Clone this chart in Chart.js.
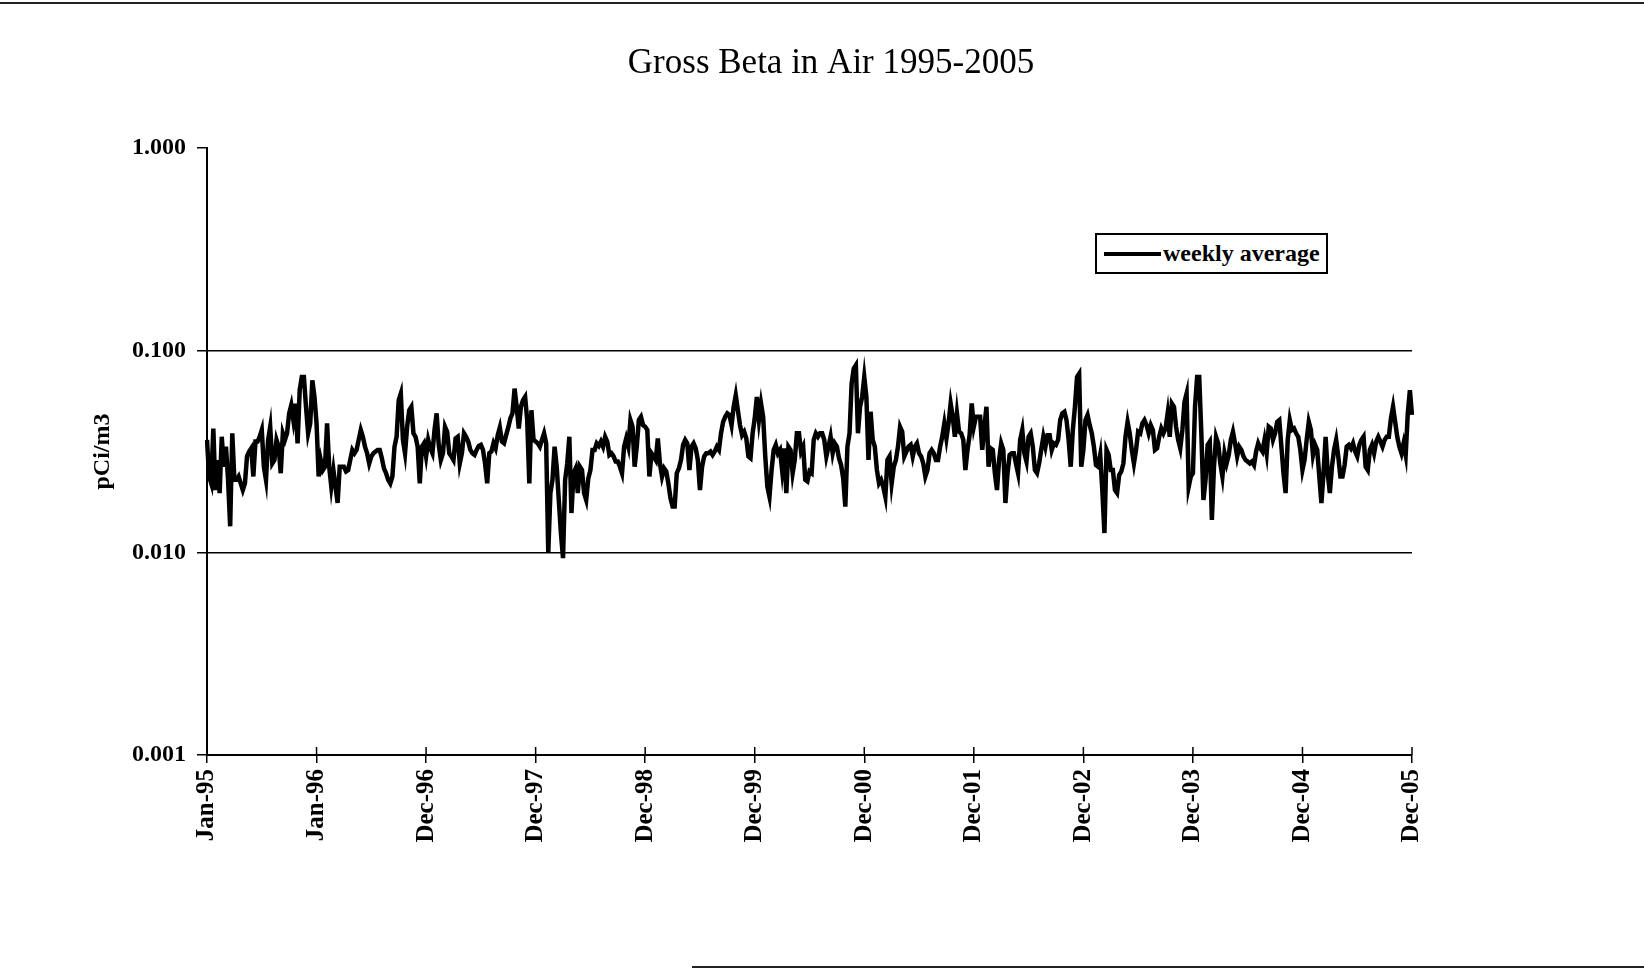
<!DOCTYPE html>
<html><head><meta charset="utf-8">
<script src="https://cdn.jsdelivr.net/npm/chart.js@4.4.1/dist/chart.umd.min.js"></script>
<style>
html,body{margin:0;padding:0;background:#fff;}
#wrap{position:relative;width:1644px;height:970px;overflow:hidden;background:#fff;}
#c{position:absolute;left:0;top:0;}
.rule{position:absolute;background:#222;height:2px;}
#legend{position:absolute;left:1095px;top:233px;width:229px;height:37px;border:2px solid #000;background:#fff;
  font:bold 24px "Liberation Serif","Times New Roman",serif;color:#000;display:flex;align-items:center;white-space:nowrap;}
#legend .sw{display:inline-block;width:57px;height:4px;background:#000;margin-left:7px;margin-right:2px;}
</style></head>
<body><div id="wrap"><canvas id="c" width="1644" height="970"></canvas>
<div class="rule" style="left:0;top:2px;width:1644px"></div>
<div class="rule" style="left:692px;top:966px;width:952px"></div>
<div id="legend"><span class="sw"></span><span id="legtext"></span></div>
</div>
<script>
const titleText = "Gross Beta in Air 1995-2005";
const seriesName = "weekly average";
const yAxisTitle = "pCi/m3";
const tickLabels = ["Jan-95","Jan-96","Dec-96","Dec-97","Dec-98","Dec-99","Dec-00","Dec-01","Dec-02","Dec-03","Dec-04","Dec-05"];
const yTickValues = [0.001, 0.01, 0.1, 1];
const weeksPerTick = 52;

// weekly gross beta values (pCi/m3)
const w1995 = [0.0361,0.0238,0.0220,0.0411,0.0204,0.0287,0.0197,0.0374,0.0266,0.0334,
  0.0229,0.0135,0.0389,0.0229,0.0229,0.0238,0.0220,0.0204,0.0220,0.0299,
  0.0316,0.0328,0.0238,0.0354,0.0354,0.0374,0.0404,0.0266,0.0229,0.0361,
  0.0419,0.0276,0.0287,0.0361,0.0334,0.0247,0.0389,0.0361,0.0389,0.0488,
  0.0536,0.0452,0.0546,0.0347,0.0635,0.0739,0.0739,0.0526,0.0389,0.0435,
  0.0711,0.0589];
const w1996 = [0.0435,0.0238,0.0287,0.0256,0.0266,0.0435,0.0266,0.0212,0.0256,0.0212,
  0.0176,0.0266,0.0266,0.0266,0.0252,0.0256,0.0287,0.0322,0.0310,0.0322,
  0.0361,0.0404,0.0374,0.0334,0.0310,0.0276,0.0299,0.0310,0.0316,0.0322,
  0.0322,0.0293,0.0261,0.0247,0.0229,0.0220,0.0238,0.0334,0.0374,0.0567,
  0.0612,0.0361,0.0310,0.0419,0.0506,0.0526,0.0389,0.0374,0.0334,0.0220,0.0334,0.0347];
const w1997 = [0.0299,0.0361,0.0328,0.0310,0.0404,0.0488,0.0341,0.0287,0.0310,0.0419,
  0.0396,0.0310,0.0299,0.0287,0.0367,0.0374,0.0276,0.0310,0.0389,0.0374,
  0.0354,0.0322,0.0310,0.0304,0.0322,0.0337,0.0341,0.0322,0.0276,0.0220,
  0.0310,0.0316,0.0347,0.0328,0.0381,0.0416,0.0354,0.0347,0.0381,0.0416,
  0.0461,0.0488,0.0647,0.0526,0.0411,0.0526,0.0567,0.0589,0.0452,0.0220,0.0506,0.0361];
const w1998 = [0.0354,0.0347,0.0334,0.0361,0.0389,0.0347,0.0100,0.0197,0.0229,0.0334,
  0.0266,0.0182,0.0125,0.0094,0.0229,0.0276,0.0374,0.0157,0.0247,0.0261,
  0.0197,0.0266,0.0256,0.0197,0.0182,0.0233,0.0256,0.0322,0.0322,0.0347,
  0.0337,0.0354,0.0334,0.0374,0.0354,0.0304,0.0310,0.0299,0.0282,0.0282,
  0.0266,0.0247,0.0334,0.0367,0.0334,0.0452,0.0419,0.0266,0.0334,0.0452,0.0469,0.0427];
const w1999 = [0.0419,0.0404,0.0238,0.0310,0.0299,0.0287,0.0367,0.0276,0.0238,0.0261,
  0.0252,0.0220,0.0186,0.0169,0.0169,0.0247,0.0261,0.0287,0.0341,0.0361,
  0.0347,0.0256,0.0334,0.0347,0.0328,0.0287,0.0204,0.0266,0.0299,0.0310,
  0.0310,0.0316,0.0304,0.0316,0.0334,0.0322,0.0389,0.0443,0.0469,0.0488,
  0.0479,0.0427,0.0526,0.0600,0.0506,0.0427,0.0381,0.0396,0.0367,0.0299,0.0293,0.0389];
const w2000 = [0.0461,0.0589,0.0452,0.0546,0.0469,0.0299,0.0212,0.0189,0.0256,0.0322,
  0.0341,0.0310,0.0322,0.0256,0.0328,0.0197,0.0334,0.0322,0.0247,0.0287,
  0.0389,0.0389,0.0316,0.0334,0.0229,0.0225,0.0252,0.0247,0.0361,0.0389,
  0.0374,0.0389,0.0389,0.0361,0.0299,0.0334,0.0374,0.0310,0.0347,0.0334,
  0.0293,0.0271,0.0233,0.0169,0.0334,0.0389,0.0686,0.0812,0.0844,0.0389,0.0526,0.0589];
const w2001 = [0.0739,0.0589,0.0287,0.0497,0.0361,0.0334,0.0256,0.0220,0.0229,0.0212,
  0.0189,0.0287,0.0299,0.0220,0.0266,0.0287,0.0334,0.0419,0.0396,0.0299,
  0.0316,0.0334,0.0341,0.0299,0.0334,0.0347,0.0310,0.0299,0.0276,0.0238,
  0.0256,0.0310,0.0322,0.0310,0.0287,0.0287,0.0334,0.0374,0.0435,0.0367,
  0.0435,0.0546,0.0469,0.0374,0.0488,0.0396,0.0389,0.0361,0.0256,0.0322,0.0381,0.0546];
const w2002 = [0.0419,0.0469,0.0469,0.0469,0.0322,0.0419,0.0526,0.0266,0.0328,0.0322,
  0.0247,0.0204,0.0287,0.0347,0.0322,0.0176,0.0247,0.0304,0.0310,0.0310,
  0.0276,0.0247,0.0361,0.0404,0.0310,0.0282,0.0374,0.0389,0.0334,0.0256,
  0.0247,0.0276,0.0322,0.0374,0.0334,0.0381,0.0381,0.0322,0.0347,0.0341,
  0.0361,0.0452,0.0488,0.0497,0.0452,0.0361,0.0266,0.0404,0.0526,0.0739,0.0767,0.0266];
const w2003 = [0.0322,0.0452,0.0479,0.0427,0.0389,0.0334,0.0271,0.0266,0.0304,0.0204,
  0.0125,0.0322,0.0304,0.0256,0.0256,0.0204,0.0197,0.0242,0.0252,0.0276,
  0.0374,0.0443,0.0389,0.0322,0.0276,0.0322,0.0396,0.0389,0.0435,0.0452,
  0.0427,0.0389,0.0427,0.0404,0.0322,0.0328,0.0374,0.0411,0.0389,0.0411,
  0.0488,0.0374,0.0546,0.0526,0.0419,0.0361,0.0328,0.0404,0.0557,0.0612,0.0212,0.0238];
const w2004 = [0.0247,0.0526,0.0739,0.0739,0.0389,0.0182,0.0229,0.0341,0.0354,0.0145,
  0.0266,0.0374,0.0347,0.0276,0.0238,0.0310,0.0276,0.0304,0.0361,0.0396,
  0.0347,0.0299,0.0334,0.0322,0.0299,0.0287,0.0282,0.0276,0.0282,0.0271,
  0.0316,0.0347,0.0328,0.0316,0.0361,0.0310,0.0419,0.0411,0.0361,0.0389,
  0.0443,0.0452,0.0334,0.0247,0.0197,0.0361,0.0452,0.0404,0.0411,0.0389,0.0374,0.0322];
const w2005 = [0.0256,0.0287,0.0361,0.0443,0.0404,0.0304,0.0341,0.0322,0.0238,0.0176,
  0.0247,0.0374,0.0247,0.0197,0.0266,0.0322,0.0361,0.0299,0.0238,0.0238,
  0.0271,0.0334,0.0341,0.0328,0.0347,0.0316,0.0299,0.0341,0.0361,0.0374,
  0.0266,0.0256,0.0322,0.0341,0.0310,0.0354,0.0374,0.0354,0.0334,0.0361,
  0.0374,0.0374,0.0461,0.0526,0.0443,0.0374,0.0334,0.0310,0.0347,0.0304,0.0488,0.0635,0.0480];

const values = [].concat(w1995, w1996, w1997, w1998, w1999, w2000, w2001, w2002, w2003, w2004, w2005);
const categories = values.map((_, i) => i);

document.getElementById('legtext').textContent = seriesName;

const FONT = '"Liberation Serif", "Times New Roman", serif';

const crossTicks = {
  id: 'crossTicks',
  afterDatasetsDraw(chart) {
    const xs = chart.scales.x, ctx = chart.ctx;
    ctx.save();
    ctx.strokeStyle = '#000';
    ctx.lineWidth = 1.5;
    xs.ticks.forEach((t, i) => {
      const px = xs.getPixelForTick(i);
      ctx.beginPath();
      ctx.moveTo(px, xs.top);
      ctx.lineTo(px, xs.top - 8);
      ctx.stroke();
    });
    ctx.restore();
  }
};

new Chart(document.getElementById('c'), {
  type: 'line',
  data: {
    labels: categories,
    datasets: [{
      label: seriesName,
      data: values,
      borderColor: '#000',
      borderWidth: 4.5,
      pointRadius: 0,
      tension: 0,
      fill: false
    }]
  },
  options: {
    responsive: false,
    animation: false,
    layout: { padding: { left: 18, right: 0, top: 0, bottom: 0 } },
    plugins: {
      legend: { display: false },
      tooltip: { enabled: false },
      title: {
        display: true, text: titleText, color: '#000',
        font: { family: FONT, size: 35, weight: 'normal' },
        padding: { top: 43, bottom: 63 }
      }
    },
    scales: {
      x: {
        type: 'category',
        offset: false,
        grid: { display: true, drawOnChartArea: false, drawTicks: true, tickLength: 8, color: '#000', lineWidth: 1.5 },
        border: { display: true, color: '#000', width: 2 },
        ticks: {
          autoSkip: false, maxRotation: 90, minRotation: 90, padding: 6, color: '#000',
          font: { family: FONT, size: 25, weight: 'bold' },
          callback: (v) => tickLabels[v / weeksPerTick]
        },
        afterBuildTicks: (s) => { s.ticks = s.ticks.filter(t => t.value % weeksPerTick === 0); },
        afterFit: (s) => { s.height = 215; }
      },
      y: {
        type: 'logarithmic',
        min: 0.001, max: 1,
        afterBuildTicks: (s) => { s.ticks = yTickValues.map(v => ({ value: v })); },
        ticks: {
          color: '#000', padding: 11,
          font: { family: FONT, size: 24, weight: 'bold' },
          callback: (v) => Number(v).toFixed(3)
        },
        grid: {
          color: (c) => (c.tick && (c.tick.value === 0.1 || c.tick.value === 0.01)) ? '#000' : 'rgba(0,0,0,0)',
          tickColor: '#000', lineWidth: 1.5, tickLength: 10, drawTicks: true
        },
        border: { display: true, color: '#000', width: 2 },
        title: {
          display: true, text: yAxisTitle, color: '#000',
          font: { family: FONT, size: 24, weight: 'bold' },
          padding: { top: 70, bottom: 0 }
        },
        afterFit: (s) => { s.width = 189; }
      },
      rightSpace: {
        type: 'linear',
        position: 'right',
        display: true,
        ticks: { display: false },
        grid: { display: false, drawTicks: false },
        border: { display: false },
        afterFit: (s) => { s.width = 232; }
      }
    }
  },
  plugins: [crossTicks]
});
</script>
</body></html>
